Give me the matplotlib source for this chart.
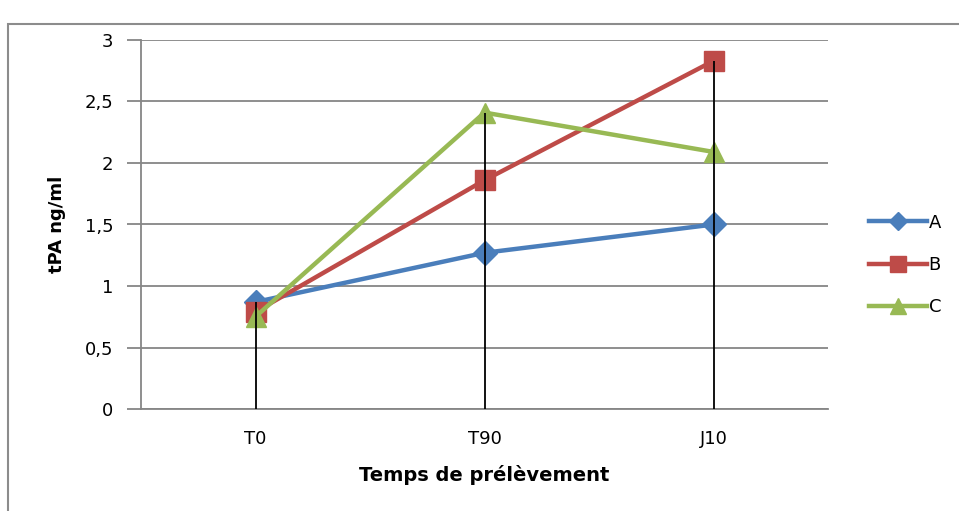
import numpy as np
import matplotlib.pyplot as plt
from matplotlib.patches import Rectangle
from matplotlib.ticker import FuncFormatter

plt.rcParams['font.family'] = ['DejaVu Sans']

categories = ['T0', 'T90', 'J10']
serie_a = [0.87, 1.27, 1.50]
serie_b = [0.79, 1.86, 2.83]
serie_c = [0.75, 2.41, 2.09]
noms = ['A', 'B', 'C']

fig = plt.figure(figsize=(9.59, 5.11), dpi=100)
# cadre du graphique (ouvert a droite et en bas)
fig.patches.append(Rectangle((8 / 959, -0.1), 1.1, (511 - 24) / 511 + 0.1,
                             transform=fig.transFigure, fill=False,
                             edgecolor='#8c8c8c', lw=1.5))

ax = fig.add_axes([141 / 959, (511 - 409) / 511, (828 - 141) / 959, (409 - 40) / 511])
x = np.arange(len(categories))

# lignes de projection (du max jusqu'a l'axe)
hauts = np.max([serie_a, serie_b, serie_c], axis=0)
ax.vlines(x, 0, hauts, color='black', lw=1.3, zorder=4)

ax.plot(x, serie_a, color='#4A7EBB', lw=3.2, marker='D', ms=12, label=noms[0], zorder=3)
ax.plot(x, serie_b, color='#BE4B48', lw=3.2, marker='s', ms=14, label=noms[1], zorder=3)
ax.plot(x, serie_c, color='#98B954', lw=3.2, marker='^', ms=15, label=noms[2], zorder=3)

ax.set_xlim(-0.5, 2.5)
ax.set_ylim(0, 3)
ax.set_yticks(np.arange(0, 3.01, 0.5))
ax.yaxis.set_major_formatter(FuncFormatter(lambda v, p: ('%g' % v).replace('.', ',')))
ax.set_xticks(x)
ax.set_xticklabels(categories)
ax.grid(axis='y', color='#868686', lw=1.3)
ax.set_axisbelow(True)
for s in ['top', 'right']:
    ax.spines[s].set_visible(False)
ax.spines['left'].set_color('#868686')
ax.spines['bottom'].set_color('#868686')
ax.spines['left'].set_linewidth(1.3)
ax.spines['bottom'].set_linewidth(1.3)
ax.tick_params(axis='y', length=10, width=1.3, color='#868686', labelsize=13, pad=10)
ax.tick_params(axis='x', length=0, labelsize=13, pad=15)

ax.set_xlabel('Temps de prélèvement', fontsize=14, fontweight='bold')
ax.xaxis.set_label_coords(0.5, (409 - 475) / 369)
ax.xaxis.label.set_va('center')
ax.set_ylabel('tPA ng/ml', fontsize=13, fontweight='bold')
ax.yaxis.set_label_coords((57 - 141) / 687, 0.5)
ax.yaxis.label.set_va('center')

fig.legend(loc='center left', bbox_to_anchor=(869 / 959, (511 - 265) / 511),
           bbox_transform=fig.transFigure, frameon=False, borderpad=0, borderaxespad=0,
           fontsize=13, handlelength=3.2, handletextpad=0.1, labelspacing=1.35,
           markerscale=0.8)

fig.savefig('out.png', dpi=100)
